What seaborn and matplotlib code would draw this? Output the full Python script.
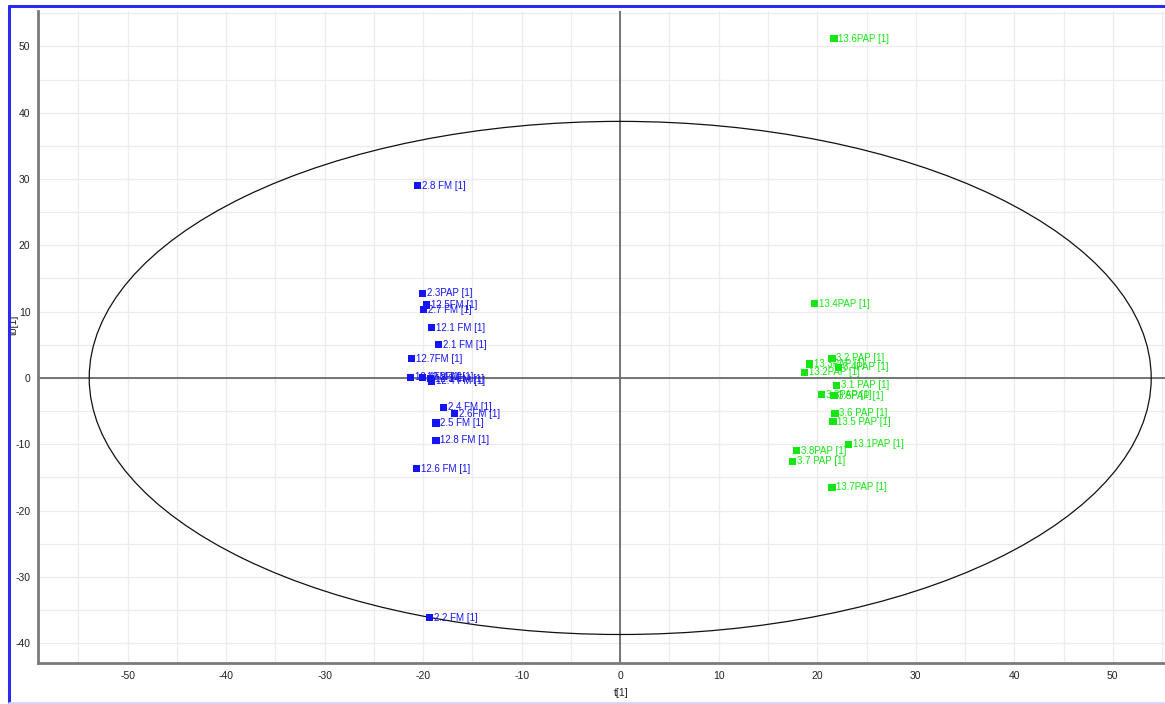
import numpy as np
import pandas as pd
import matplotlib
matplotlib.use("Agg")
import matplotlib.pyplot as plt
from matplotlib.patches import Ellipse
from matplotlib.lines import Line2D
from matplotlib.ticker import MultipleLocator
import seaborn as sns

# Score values: predictive t[1] and orthogonal to[1]
fm_labels = ["2.8 FM [1]", "2.3PAP [1]", "12.5FM [1]", "2.7 FM [1]", "12.1 FM [1]",
             "2.1 FM [1]", "12.7FM [1]", "12.4FM [1]", "12.2FM [1]", "12.3 FM [1]",
             "12.4 FM [1]", "2.4 FM [1]", "2.6FM [1]", "2.5 FM [1]", "12.8 FM [1]",
             "12.6 FM [1]", "2.2 FM [1]"]
fm_t = [-20.6, -20.1, -19.7, -19.95, -19.2, -18.4, -21.2, -21.3, -20.05, -19.3,
        -19.2, -17.9, -16.8, -18.7, -18.7, -20.7, -19.4]
fm_to = [29.0, 12.8, 11.0, 10.3, 7.6, 5.0, 2.9, 0.1, 0.1, -0.1,
         -0.5, -4.4, -5.4, -6.8, -9.4, -13.7, -36.2]

pap_labels = ["13.6PAP [1]", "13.4PAP [1]", "3.2 PAP [1]", "13.3PAP [1]", "3.4PAP [1]",
              "13.2PAP [1]", "3.1 PAP [1]", "3.3PAP [1]", "3.5PAP [1]", "3.6 PAP [1]",
              "13.5 PAP [1]", "13.1PAP [1]", "3.8PAP [1]", "3.7 PAP [1]", "13.7PAP [1]"]
pap_t = [21.7, 19.7, 21.5, 19.2, 22.2, 18.7, 22.0, 20.4, 21.7, 21.8,
         21.6, 23.2, 17.9, 17.5, 21.5]
pap_to = [51.2, 11.2, 3.0, 2.1, 1.6, 0.85, -1.1, -2.5, -2.7, -5.3,
          -6.6, -10.0, -11.0, -12.6, -16.5]

# Hotelling T2 (95%) ellipse semi-axes
ellipse_t = 53.9
ellipse_to = 38.7

group_colors = {"FM": "#1414f5", "PAP": "#14e614"}

df = pd.DataFrame({
    "t": fm_t + pap_t,
    "to": fm_to + pap_to,
    "label": fm_labels + pap_labels,
    "group": ["FM"] * len(fm_t) + ["PAP"] * len(pap_t),
})

sns.set_style("white")
plt.rcParams["font.family"] = ["Liberation Sans", "DejaVu Sans"]
plt.rcParams["axes.unicode_minus"] = False

W, H = 1165, 704
fig = plt.figure(figsize=(W / 100, H / 100), dpi=100)
ax = fig.add_axes([38 / W, 1 - 663 / H, (1165 - 38) / W, (663 - 11) / H])

ax.set_xlim(-59.1, 55.3)
ax.set_ylim(-43.0, 55.35)

ax.xaxis.set_major_locator(MultipleLocator(10))
ax.xaxis.set_minor_locator(MultipleLocator(5))
ax.yaxis.set_major_locator(MultipleLocator(10))
ax.yaxis.set_minor_locator(MultipleLocator(5))
ax.grid(which="both", color="#ececec", lw=0.9, zorder=0)
ax.set_axisbelow(True)

ax.axhline(0, color="#6a6a6a", lw=1.3, zorder=1)
ax.axvline(0, color="#6a6a6a", lw=1.3, zorder=1)

ax.add_patch(Ellipse((0, 0), 2 * ellipse_t, 2 * ellipse_to, fill=False,
                     edgecolor="#111111", lw=0.9, zorder=2))

sns.scatterplot(data=df, x="t", y="to", hue="group", palette=group_colors,
                marker="s", s=26, linewidth=0, legend=False, ax=ax, zorder=3)

for _, r in df.iterrows():
    ax.annotate(r["label"], (r["t"], r["to"]), xytext=(3.2, 0),
                textcoords="offset points", va="center", ha="left",
                fontsize=7, color=group_colors[r["group"]], zorder=4)

for side in ("top", "right"):
    ax.spines[side].set_visible(False)
for side in ("left", "bottom"):
    ax.spines[side].set_color("#7a7a7a")
    ax.spines[side].set_linewidth(2)

ax.tick_params(which="both", direction="inout", length=5, width=1,
               color="#333333", labelsize=7.5, labelcolor="#222222", pad=3)
ax.tick_params(which="minor", length=5)

ax.set_xlabel("t[1]", fontsize=7.5, color="#222222")
ax.set_ylabel("to[1]", fontsize=7.5, color="#222222")
ax.xaxis.set_label_coords((621 - 38) / 1127, -(693 - 663) / 652)
ax.yaxis.set_label_coords(-(38 - 14) / 1127, (663 - 325) / 652)
ax.xaxis.label.set_va("center")
ax.yaxis.label.set_va("center")

# Window frame
fig.add_artist(Line2D([9 / W, 9 / W], [1 - 703 / H, 1 - 6 / H], color="#2b2bf0", lw=2.2))
fig.add_artist(Line2D([9 / W, 1.0], [1 - 6 / H, 1 - 6 / H], color="#2b2bf0", lw=2.2))
fig.add_artist(Line2D([9 / W, 1.0], [1 - 703 / H, 1 - 703 / H], color="#d9d2f7", lw=2))

fig.savefig("out.png", dpi=100)
